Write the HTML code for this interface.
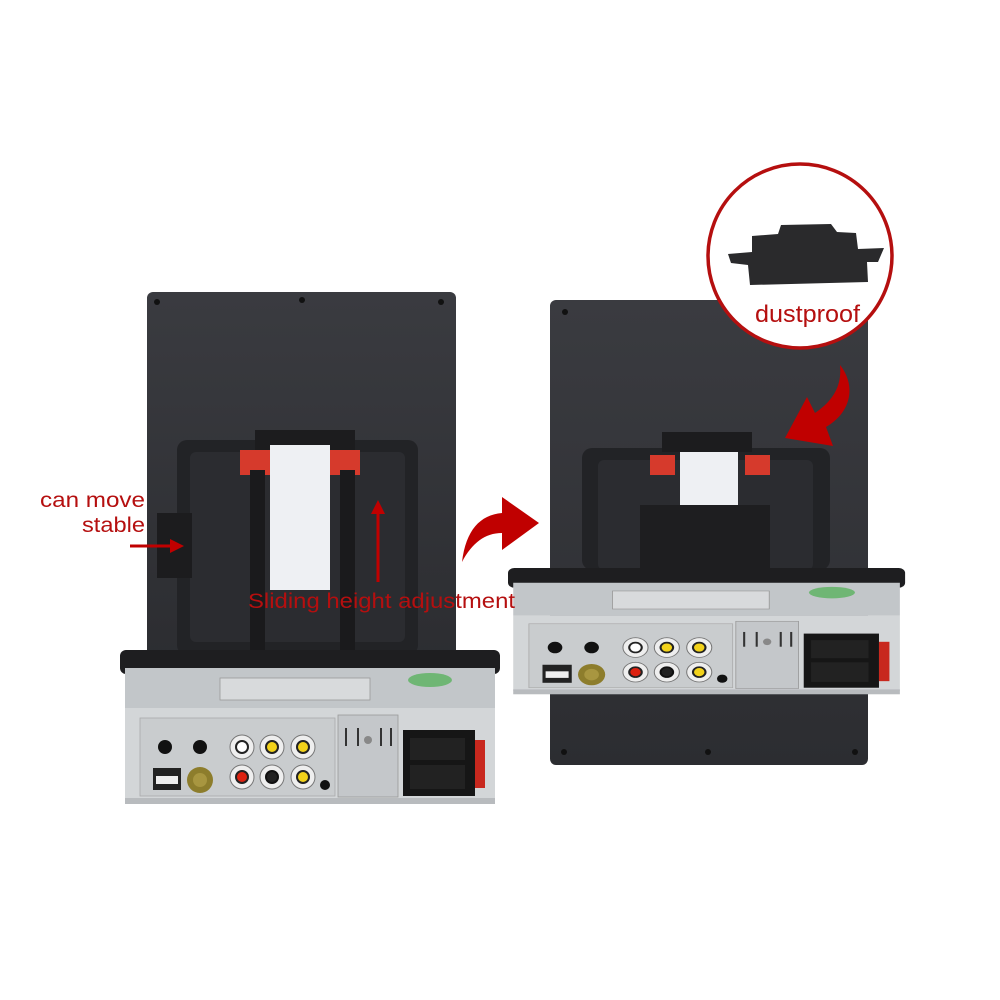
<!DOCTYPE html>
<html><head><meta charset="utf-8"><style>
html,body{margin:0;padding:0;background:#fff;}
svg{display:block;}
text{font-family:"Liberation Sans",sans-serif;}
</style></head><body>
<svg width="1000" height="1000" viewBox="0 0 1000 1000" xmlns="http://www.w3.org/2000/svg">
<defs>
<linearGradient id="pan" x1="0" y1="0" x2="0" y2="1">
<stop offset="0" stop-color="#3a3b40"/><stop offset="1" stop-color="#2c2d31"/>
</linearGradient>
<g id="unit">
  <rect x="0" y="0" width="380" height="24" rx="6" fill="#1e1e20"/>
  <rect x="5" y="18" width="370" height="40" fill="#c2c6c9"/>
  <rect x="100" y="28" width="150" height="22" fill="#d8dadc" stroke="#999" stroke-width="0.8"/>
  <ellipse cx="310" cy="30" rx="22" ry="7" fill="#4caf50" opacity="0.7"/>
  <rect x="5" y="58" width="370" height="92" fill="#d3d6d8"/>
  <rect x="5" y="148" width="370" height="6" fill="#b8bbbe"/>
  <rect x="20" y="68" width="195" height="78" fill="#c9ccce" stroke="#aaa" stroke-width="0.8"/>
  <rect x="218" y="65" width="60" height="82" fill="#c4c7ca" stroke="#999" stroke-width="0.8"/>
  <g fill="#333"><rect x="225" y="78" width="2" height="18"/><rect x="237" y="78" width="2" height="18"/><rect x="260" y="78" width="2" height="18"/><rect x="270" y="78" width="2" height="18"/></g>
  <circle cx="248" cy="90" r="4" fill="#888"/>
  <circle cx="45" cy="97" r="7" fill="#111"/>
  <circle cx="80" cy="97" r="7" fill="#111"/>
  <rect x="33" y="118" width="28" height="22" fill="#222"/><rect x="36" y="126" width="22" height="8" fill="#eee"/>
  <circle cx="80" cy="130" r="13" fill="#8d7d2c"/><circle cx="80" cy="130" r="7" fill="#a89640"/>
  <circle cx="122" cy="97" r="12" fill="#eee" stroke="#777"/><circle cx="122" cy="97" r="6" fill="#fff" stroke="#222" stroke-width="2"/>
  <circle cx="152" cy="97" r="12" fill="#eee" stroke="#777"/><circle cx="152" cy="97" r="6" fill="#f2d21a" stroke="#222" stroke-width="2"/>
  <circle cx="183" cy="97" r="12" fill="#eee" stroke="#777"/><circle cx="183" cy="97" r="6" fill="#f2d21a" stroke="#222" stroke-width="2"/>
  <circle cx="122" cy="127" r="12" fill="#eee" stroke="#777"/><circle cx="122" cy="127" r="6" fill="#d21" stroke="#222" stroke-width="2"/>
  <circle cx="152" cy="127" r="12" fill="#eee" stroke="#777"/><circle cx="152" cy="127" r="6" fill="#222" stroke="#111" stroke-width="2"/>
  <circle cx="183" cy="127" r="12" fill="#eee" stroke="#777"/><circle cx="183" cy="127" r="6" fill="#f2d21a" stroke="#222" stroke-width="2"/>
  <circle cx="205" cy="135" r="5" fill="#111"/>
  <rect x="283" y="80" width="72" height="66" fill="#161616"/>
  <rect x="290" y="88" width="55" height="22" fill="#222"/><rect x="290" y="115" width="55" height="24" fill="#222"/>
  <rect x="355" y="90" width="10" height="48" fill="#c8281e"/>
</g>
</defs>

<rect x="147" y="292" width="309" height="370" rx="6" fill="url(#pan)"/>
<circle cx="157" cy="302" r="3" fill="#111"/><circle cx="302" cy="300" r="3" fill="#111"/><circle cx="441" cy="302" r="3" fill="#111"/>
<rect x="177" y="440" width="241" height="215" rx="10" fill="#222326"/>
<rect x="190" y="452" width="215" height="190" rx="6" fill="#2b2c30"/>
<rect x="255" y="430" width="100" height="20" fill="#1c1c1e"/>
<rect x="240" y="450" width="30" height="25" fill="#d63a2c"/><rect x="330" y="450" width="30" height="25" fill="#d63a2c"/>
<rect x="250" y="470" width="15" height="180" fill="#1a1a1c"/><rect x="340" y="470" width="15" height="180" fill="#1a1a1c"/>
<rect x="270" y="445" width="60" height="145" fill="#eef0f3"/>
<rect x="157" y="513" width="35" height="65" fill="#1c1c1e"/>
<use href="#unit" transform="translate(120,650)"/>

<rect x="550" y="300" width="318" height="465" rx="6" fill="url(#pan)"/>
<circle cx="565" cy="312" r="3" fill="#111"/><circle cx="708" cy="752" r="3" fill="#111"/><circle cx="855" cy="752" r="3" fill="#111"/><circle cx="564" cy="752" r="3" fill="#111"/>
<rect x="582" y="448" width="248" height="122" rx="10" fill="#222326"/>
<rect x="598" y="460" width="215" height="110" rx="6" fill="#2b2c30"/>
<rect x="662" y="432" width="90" height="20" fill="#1c1c1e"/>
<rect x="650" y="455" width="25" height="20" fill="#d63a2c"/><rect x="745" y="455" width="25" height="20" fill="#d63a2c"/>
<rect x="680" y="452" width="58" height="55" fill="#eef0f3"/>
<rect x="640" y="505" width="130" height="65" fill="#1e1e20"/>
<use href="#unit" transform="translate(508,568) scale(1.045,0.82)"/>

<circle cx="800" cy="256" r="92" fill="#fff" stroke="#b50f0f" stroke-width="3.5"/>
<path d="M728,254 L752,252 L752,236 L778,234 L781,225 L831,224 L837,232 L856,233 L858,249 L884,248 L878,262 L867,262 L868,282 L750,285 L748,265 L731,263 Z" fill="#2a2a2c"/>
<text x="755" y="322" font-size="24" fill="#b50f0f" textLength="105" lengthAdjust="spacingAndGlyphs">dustproof</text>

<path d="M462,562 C466,530 480,515 502,513 L502,497 L539,523 L502,550 L502,533 C485,533 472,543 462,562 Z" fill="#c00000"/>
<path d="M840,365 C856,385 852,412 826,427 L833,446 L785,438 L807,397 L815,413 C834,400 842,385 840,365 Z" fill="#c00000"/>
<line x1="130" y1="546" x2="172" y2="546" stroke="#c00000" stroke-width="3"/>
<path d="M170,539 L184,546 L170,553 Z" fill="#c00000"/>
<line x1="378" y1="582" x2="378" y2="512" stroke="#c00000" stroke-width="3"/>
<path d="M371,514 L378,500 L385,514 Z" fill="#c00000"/>

<text x="40" y="507" font-size="21" fill="#b50f0f" textLength="105" lengthAdjust="spacingAndGlyphs">can move</text>
<text x="82" y="532" font-size="21" fill="#b50f0f" textLength="63" lengthAdjust="spacingAndGlyphs">stable</text>
<text x="248" y="608" font-size="21" fill="#b50f0f" textLength="267" lengthAdjust="spacingAndGlyphs">Sliding height adjustment</text>
</svg>
</body></html>
